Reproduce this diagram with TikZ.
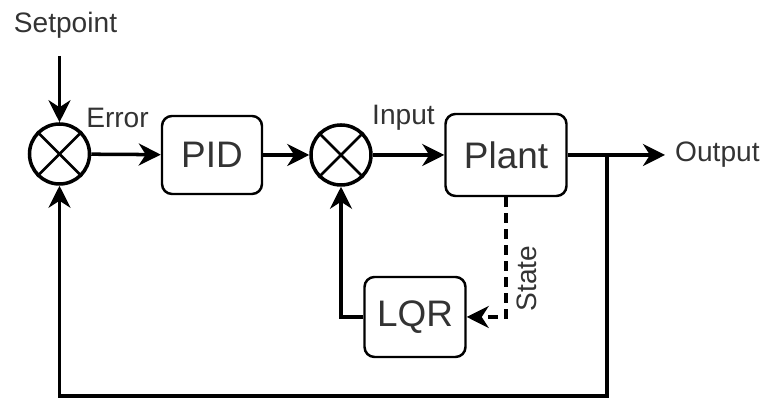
\documentclass[tikz,border=0pt]{standalone}
\usepackage{fontspec}
\setmainfont{Liberation Sans}
\usetikzlibrary{arrows.meta}
\begin{document}
\begin{tikzpicture}[
    blk/.style={draw, rounded corners=0.2cm, line width=1.4pt, text=black!80, font=\fontsize{21}{25}\selectfont},
    sum/.style={draw, circle, minimum size=1.2cm, inner sep=0pt, line width=2pt},
    lbl/.style={text=black!80, font=\fontsize{16}{19}\selectfont},
    sig/.style={line width=2pt, -{Stealth[length=0.44cm, width=0.44cm, inset=0.14cm]}}
]
    \useasboundingbox (0,0) rectangle (15.26,7.98);

    \node[lbl] (setpt) at (1.31,7.48) {Setpoint};
    \coordinate (spin) at (1.19,6.86);
    \node[sum] (s1) at (1.19,4.9) {};
    \node[lbl] (err) at (2.35,5.62) {Error};
    \node[blk, minimum width=2cm, minimum height=1.56cm] (pid) at (4.24,4.88) {PID};
    \node[sum] (s2) at (6.82,4.88) {};
    \node[lbl] (inp) at (8.07,5.62) {Input};
    \node[blk, minimum width=2.42cm, minimum height=1.64cm] (plant) at (10.12,4.88) {Plant};
    \coordinate (br) at (12.14,4.88);
    \coordinate (out) at (13.3,4.88);
    \node[lbl, anchor=west] (outl) at (13.38,4.88) {Output};
    \node[blk, minimum width=2.02cm, minimum height=1.6cm] (lqr) at (8.3,1.64) {LQR};
    \coordinate (bot) at (12.14,0.06);

    \foreach \s in {s1,s2} {
        \draw[line width=1.5pt] (\s.north west) -- (\s.south east);
        \draw[line width=1.5pt] (\s.south west) -- (\s.north east);
    }

    \draw[sig] (spin) -- (s1);
    \draw[sig] (s1) -- (pid);
    \draw[sig] (pid) -- (s2);
    \draw[sig] (s2) -- (plant);
    \draw[sig] (plant) -- (out);
    \draw[sig] (br) -- (bot) -| (s1);
    \draw[sig] (lqr) -| (s2);
    \draw[sig, dash pattern=on 0.2cm off 0.12cm] (plant) |- (lqr)
        node[lbl, pos=0.34, rotate=90, below, yshift=-0.06cm] (st) {State};
\end{tikzpicture}
\end{document}
